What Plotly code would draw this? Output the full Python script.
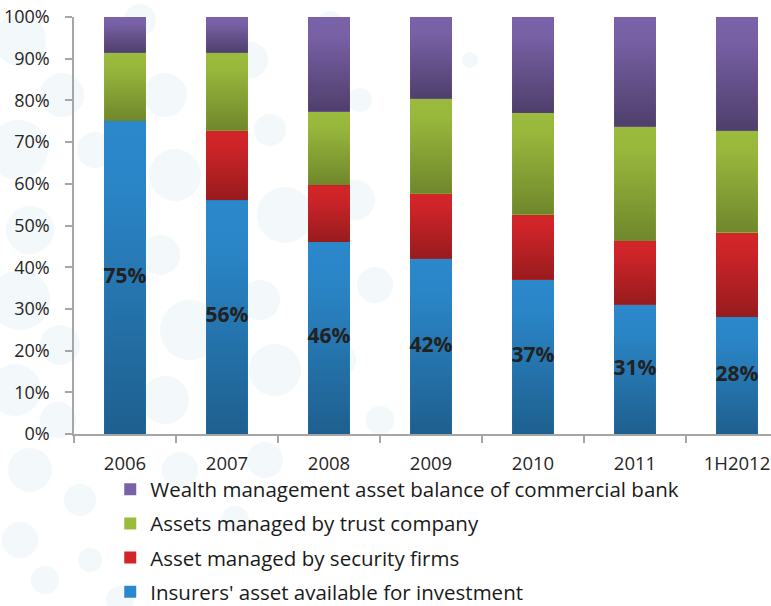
import base64
import plotly.graph_objects as go

# Share of China's asset-management market by channel (percent of total)
periods = ["2006", "2007", "2008", "2009", "2010", "2011", "1H2012"]
insurers = [75, 56, 46, 42, 37, 31, 28]
security_firms = [0, 16.7, 13.6, 15.6, 15.6, 15.3, 20.3]
trust_company = [16.4, 18.7, 17.7, 22.8, 24.4, 27.4, 24.4]
wealth_mgmt = [8.6, 8.6, 22.7, 19.6, 23.0, 26.3, 27.3]

series = [
    ("Insurers' asset available for investment", insurers, "#2B88CB", 0.30),
    ("Asset managed by security firms", security_firms, "#D22529", 0.28),
    ("Assets managed by trust company", trust_company, "#9BBB3D", 0.28),
    ("Wealth management asset balance of commercial bank", wealth_mgmt, "#7A62A8", 0.36),
]

FONT = "Open Sans"
BAR_W = 0.41
L, T, B = 74, 17, 172
W, H = 771, 606
PW, PH = W - L, H - T - B

fig = go.Figure()
for i, (name, vals, color, _) in enumerate(series):
    fig.add_trace(go.Bar(
        x=list(range(len(periods))), y=vals, name=name,
        marker=dict(color=color, line=dict(width=0)),
        width=BAR_W, legendgroup=f"g{i}", legendrank=len(series) - i,
    ))

# value labels centred in the insurers segment
fig.add_trace(go.Scatter(
    x=list(range(len(periods))), y=[v / 2 for v in insurers],
    text=[f"{v}%" for v in insurers], mode="text", showlegend=False,
    textfont=dict(family=FONT, size=21, color="#262626", weight="bold"),
    hoverinfo="skip",
))


def shade_svg(alpha):
    svg = (
        '<svg xmlns="http://www.w3.org/2000/svg" width="10" height="100" '
        'viewBox="0 0 10 100" preserveAspectRatio="none"><defs>'
        '<linearGradient id="g" x1="0" y1="0" x2="0" y2="1">'
        '<stop offset="0" stop-color="#000" stop-opacity="0"/>'
        '<stop offset="0.2" stop-color="#000" stop-opacity="0.02"/>'
        f'<stop offset="1" stop-color="#000" stop-opacity="{alpha}"/>'
        '</linearGradient></defs><rect width="10" height="100" fill="url(#g)"/></svg>'
    )
    return "data:image/svg+xml;base64," + base64.b64encode(svg.encode()).decode()


# vertical shading over each stacked segment
images = []
base = [0.0] * len(periods)
for name, vals, color, alpha in series:
    src = shade_svg(alpha)
    for j, v in enumerate(vals):
        if v > 0:
            images.append(dict(
                source=src, xref="x", yref="y", x=j - BAR_W / 2, y=base[j] + v,
                sizex=BAR_W, sizey=v, xanchor="left", yanchor="top",
                sizing="stretch", layer="above",
            ))
        base[j] += v

# faint bubble pattern in the background (pixel centre x, centre y, radius)
bubbles = [
    (20, 40, 26), (62, 95, 22), (18, 150, 30), (95, 150, 18), (30, 230, 24),
    (20, 300, 30), (60, 345, 20), (15, 390, 26), (58, 420, 18), (30, 470, 22),
    (80, 500, 16), (20, 540, 18), (45, 580, 14), (90, 560, 12), (140, 20, 16),
    (165, 95, 22), (175, 175, 26), (160, 255, 20), (190, 330, 30), (165, 400, 24),
    (180, 470, 18), (250, 60, 18), (270, 130, 16), (285, 215, 28), (260, 300, 20),
    (275, 370, 26), (265, 460, 18), (330, 25, 14), (360, 100, 12), (355, 200, 20),
    (375, 285, 18), (340, 360, 16), (380, 420, 14), (235, 520, 14), (120, 600, 14),
    (430, 180, 10), (470, 60, 8), (440, 330, 10),
]
shapes = []
for cx, cy, r in bubbles:
    shapes.append(dict(
        type="circle", xref="paper", yref="paper", layer="below",
        x0=(cx - r - L) / PW, x1=(cx + r - L) / PW,
        y0=(H - B - (cy + r)) / PH, y1=(H - B - (cy - r)) / PH,
        fillcolor="#e9f2f5", line=dict(width=0), opacity=0.55,
    ))

axis_color = "#a6a6a6"
fig.update_layout(
    width=W, height=H,
    margin=dict(l=L, r=0, t=T, b=B, pad=0, autoexpand=False),
    barmode="stack", bargap=1 - BAR_W,
    paper_bgcolor="white", plot_bgcolor="rgba(0,0,0,0)",
    font=dict(family=FONT, size=18, color="#262626"),
    images=images, shapes=shapes,
    showlegend=True,
    legend=dict(
        orientation="v", traceorder="grouped", x=0.052, xanchor="left",
        y=-0.085, yanchor="top", tracegroupgap=4.5,
        font=dict(family=FONT, size=20.5, color="#1a1a1a"),
        bgcolor="rgba(0,0,0,0)", itemclick=False,
    ),
    xaxis=dict(
        type="linear", range=[-0.5, (W - L) / 102 - 0.5],
        tickmode="array", tickvals=list(range(len(periods))), ticktext=periods,
        ticks="", showline=True, linecolor=axis_color, linewidth=1.5,
        showgrid=False, zeroline=False, ticklabelstandoff=12,
        tickfont=dict(size=18.5),
        minor=dict(tickmode="array", tickvals=[k - 0.5 for k in range(len(periods) + 1)],
                   ticks="outside", ticklen=7, tickcolor=axis_color, tickwidth=1.5),
    ),
    yaxis=dict(
        range=[0, 100], tickmode="array", tickvals=list(range(0, 101, 10)),
        ticktext=[f"{v}%" for v in range(0, 101, 10)],
        ticks="outside", ticklen=7, tickcolor=axis_color, tickwidth=1.5,
        showline=True, linecolor=axis_color, linewidth=1.5,
        showgrid=False, zeroline=False, ticklabelstandoff=12,
        tickfont=dict(size=18),
    ),
)

fig.write_html("out.html")
